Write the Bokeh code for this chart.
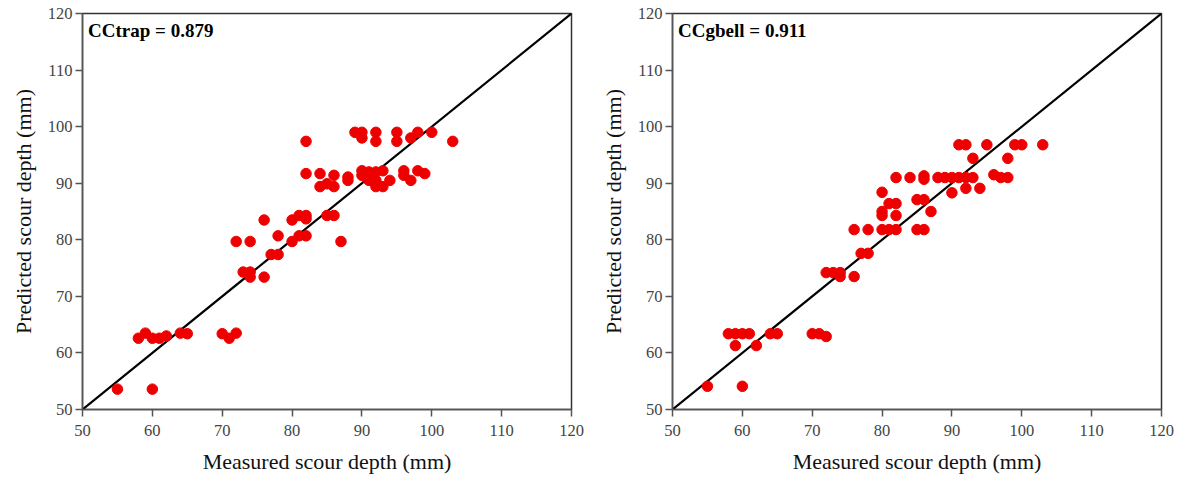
from bokeh.plotting import figure
from bokeh.layouts import row
from bokeh.models import Label, FixedTicker
from bokeh.embed import file_html
from bokeh.resources import INLINE

ticks = [50, 60, 70, 80, 90, 100, 110, 120]

measured_trap = [55, 60, 58, 59, 60, 61, 62, 64, 65, 70, 71, 72,
                 72, 74, 73, 74, 74, 76, 76, 77, 78, 78, 80, 80, 81, 82,
                 81, 82, 82, 82, 82, 84, 84, 85, 85, 86, 86, 86, 88, 88, 87,
                 89, 90, 90, 92, 92, 95, 95, 97, 98, 100, 103,
                 90, 90, 91, 92, 91, 92, 92, 93, 93, 94, 96, 96, 97, 98, 99, 91]
predicted_trap = [53.6, 53.6, 62.6, 63.5, 62.6, 62.6, 63.0, 63.5, 63.4, 63.4, 62.6, 63.5,
                  79.7, 79.7, 74.3, 74.3, 73.4, 73.4, 83.5, 77.4, 77.4, 80.7, 79.7, 83.5, 80.7, 80.7,
                  84.3, 84.3, 83.7, 97.4, 91.7, 91.7, 89.4, 89.9, 84.3, 84.3, 89.4, 91.4, 91.1, 90.5, 79.7,
                  99.0, 99.0, 98.0, 99.0, 97.4, 99.0, 97.4, 98.0, 99.0, 99.0, 97.4,
                  92.2, 91.4, 92.0, 92.0, 90.5, 90.5, 89.4, 92.2, 89.4, 90.5, 92.2, 91.4, 90.5, 92.2, 91.7, 91.4]

measured_gbell = [55, 60, 58, 59, 60, 61, 59, 62, 64, 65, 70, 71, 72,
                  72, 73, 74, 74, 76, 76, 77, 78, 78, 80, 81, 82,
                  80, 80, 80, 81, 82, 82, 82, 84, 85, 86, 85, 86, 87, 86, 86,
                  88, 89, 90, 91, 92, 93, 90, 92, 94, 91, 92, 95, 93, 96, 97, 98, 98, 99, 100, 103]
predicted_gbell = [54.1, 54.1, 63.4, 63.4, 63.4, 63.4, 61.3, 61.3, 63.4, 63.4, 63.4, 63.4, 62.9,
                   74.2, 74.2, 74.2, 73.5, 73.5, 81.8, 77.6, 77.6, 81.8, 81.8, 81.8, 81.8,
                   85.0, 84.3, 88.4, 86.4, 86.4, 84.3, 91.0, 91.0, 87.1, 87.1, 81.8, 81.8, 85.0, 91.3, 90.7,
                   91.0, 91.0, 91.0, 91.0, 91.0, 91.0, 88.3, 89.1, 89.1, 96.8, 96.8, 96.8, 94.4, 91.5, 91.0, 91.0, 94.4, 96.8, 96.8, 96.8]

panels = [
    (measured_trap, predicted_trap, "CCtrap = 0.879", 82, 20),
    (measured_gbell, predicted_gbell, "CCgbell = 0.911", 81, 21),
]

FONT = "Liberation Serif"
figs = []
for mx, py, lab, bl, br in panels:
    w = bl + 489 + br
    p = figure(width=w, height=479, x_range=(50, 120), y_range=(50, 120),
               output_backend="svg", toolbar_location=None,
               min_border_left=bl, min_border_right=br, min_border_top=13, min_border_bottom=70)
    p.xgrid.visible = False
    p.ygrid.visible = False
    p.outline_line_color = "#333333"
    p.outline_line_width = 1.5
    p.background_fill_color = "white"
    p.border_fill_color = "white"
    for ax in (p.xaxis[0], p.yaxis[0]):
        ax.ticker = FixedTicker(ticks=ticks)
        ax.axis_line_color = "#555555"
        ax.axis_line_width = 1.5
        ax.major_tick_line_color = "#555555"
        ax.major_tick_line_width = 1.5
        ax.major_tick_out = 7
        ax.major_tick_in = 0
        ax.minor_tick_line_color = None
        ax.major_label_text_font = FONT
        ax.major_label_text_font_size = "16.5px"
        ax.major_label_text_color = "#444444"
        ax.axis_label_text_font = FONT
        ax.axis_label_text_font_size = "22px"
        ax.axis_label_text_font_style = "normal"
        ax.axis_label_text_color = "#111111"
    p.xaxis.axis_label = "Measured scour depth (mm)"
    p.yaxis.axis_label = "Predicted scour depth (mm)"
    p.xaxis.major_label_standoff = 8
    p.yaxis.major_label_standoff = 3
    p.xaxis.axis_label_standoff = 10
    p.yaxis.axis_label_standoff = 9
    p.line([50, 120], [50, 120], line_color="black", line_width=2.2)
    p.scatter(mx, py, size=10.5, fill_color="#ee0000", line_color="#ee0000")
    p.add_layout(Label(x=50.8, y=118.8, text=lab, text_font=FONT, text_font_size="19px",
                       text_font_style="bold", text_baseline="top", text_color="black"))
    figs.append(p)

layout = row(*figs, spacing=0)
open("out.html", "w").write(file_html(layout, INLINE))
